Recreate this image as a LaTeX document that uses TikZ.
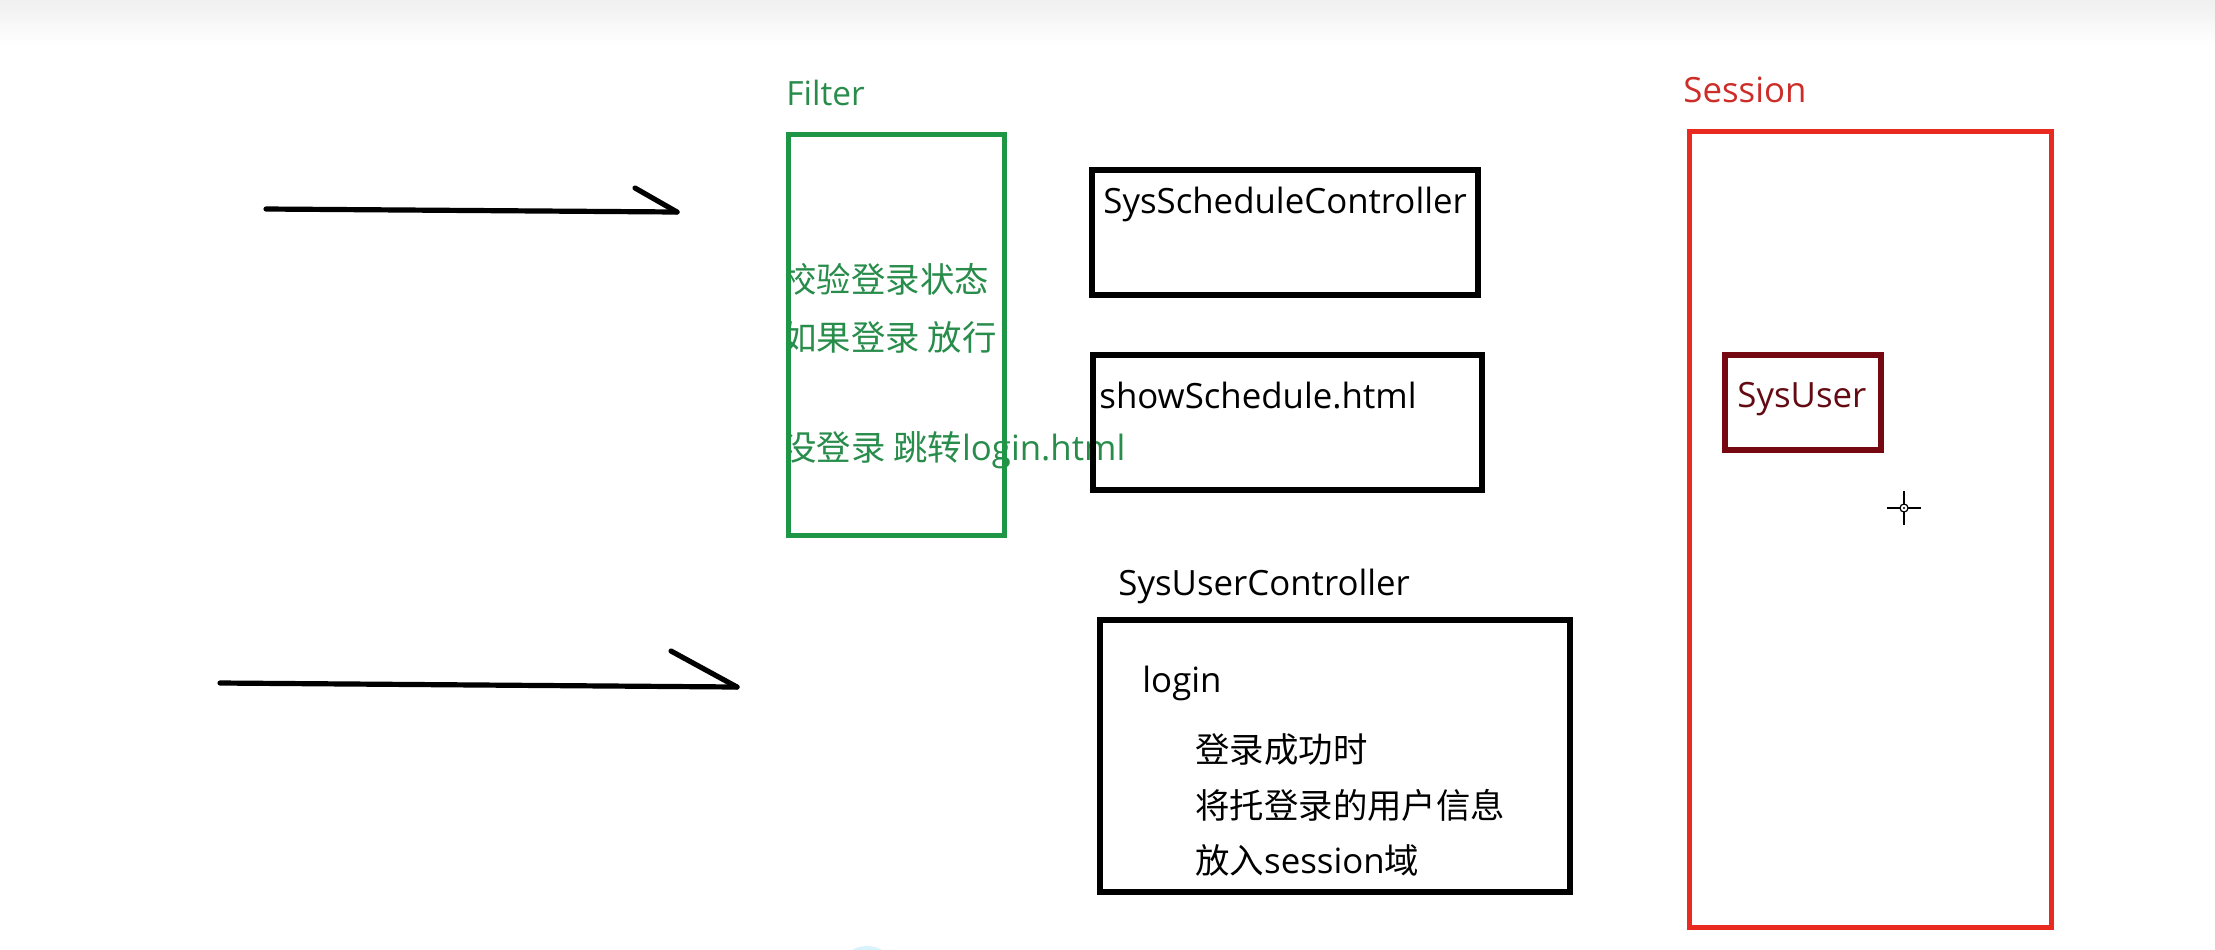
\documentclass[tikz,border=0pt]{standalone}
\usepackage{fontspec}
\setmainfont{Open Sans}[Scale=1.012]
\newfontfamily\cjk{Noto Sans CJK SC}
\definecolor{fgreen}{RGB}{30,150,70}
\definecolor{tgreen}{RGB}{40,140,75}
\definecolor{sred}{RGB}{232,42,32}
\definecolor{tred}{RGB}{205,45,40}
\definecolor{dred}{RGB}{118,8,18}
\definecolor{tdred}{RGB}{100,10,18}
\begin{document}
\begin{tikzpicture}[x=0.5pt,y=-0.5pt,
  box/.style={draw, line width=3pt, inner sep=0pt, rectangle},
  txt/.style={inner sep=0pt, anchor=base west, font=\fontsize{17.2pt}{20pt}\selectfont},
  gtxt/.style={txt, text=tgreen},
  pen/.style={line width=2.6pt, line cap=round, line join=round}]
\useasboundingbox (0,0) rectangle (2215,949);
\clip (0,0) rectangle (2215,949);
\fill[white] (0,0) rectangle (2215,949);
\shade[top color=black!6, bottom color=white] (0,0) rectangle (2215,45);
\fill[cyan!15] (867,964) ellipse [x radius=24, y radius=18];

% arrows
\coordinate (a1s) at (266,209);
\coordinate (a1e) at (677,212);
\coordinate (a1h) at (635,188);
\draw[pen] (a1s) -- (a1e);
\draw[pen] (a1h) -- (a1e);
\coordinate (a2s) at (220,683);
\coordinate (a2e) at (737,687);
\coordinate (a2h) at (671,651);
\draw[pen] (a2s) -- (a2e);
\draw[pen] (a2h) -- (a2e);

% Filter
\node[txt, text=tgreen, font=\fontsize{16.5pt}{20pt}\selectfont] (flabel) at (786,105) {Filter};
\begin{scope}
\clip (789,0) rectangle (2215,949);
\node[gtxt] (f1) at (782,292) {\cjk 校验登录状态};
\node[gtxt] (f2) at (782,350) {\cjk 如果登录 放行};
\node[gtxt] (f3) at (782,460) {{\cjk 没登录 跳转}login.html};
\end{scope}
\node[box, draw=fgreen, line width=2.5pt, minimum width=108pt, minimum height=200.5pt] (filter) at (896.5,335) {};

% controllers
\node[box, minimum width=193pt, minimum height=62.5pt] (ssc) at (1285,232.5) {};
\node[txt] (ssct) at (1103,213) {SysScheduleController};
\node[box, minimum width=194.5pt, minimum height=67.5pt] (ssh) at (1287.5,422.5) {};
\node[txt] (ssht) at (1099,408) {showSchedule.html};
\node[txt] (suct) at (1118,595) {SysUserController};
\node[box, minimum width=235pt, minimum height=136pt] (suc) at (1335,756) {};
\node[txt] (login) at (1142,692) {login};
\node[txt] (u1) at (1195,762) {\cjk 登录成功时};
\node[txt] (u2) at (1195,818) {\cjk 将托登录的用户信息};
\node[txt] (u3) at (1195,873) {{\cjk 放入}session{\cjk 域}};

% Session
\node[txt, text=tred] (slabel) at (1683,102) {Session};
\node[box, draw=sred, line width=2.5pt, minimum width=181pt, minimum height=398pt] (session) at (1870,529) {};
\node[box, draw=dred, minimum width=78pt, minimum height=47.5pt] (sysuser) at (1803,402.5) {};
\node[txt, text=tdred] (sysusert) at (1737,407) {SysUser};

% cursor
\coordinate (cur) at (1904,508);
\draw[line width=1.2pt] ([xshift=-8.5pt]cur) -- ([xshift=8.5pt]cur);
\draw[line width=1.2pt] ([yshift=-8.5pt]cur) -- ([yshift=8.5pt]cur);
\filldraw[fill=white, draw=black, line width=0.6pt] (cur) circle (2pt);
\fill (cur) circle (0.6pt);
\end{tikzpicture}
\end{document}
